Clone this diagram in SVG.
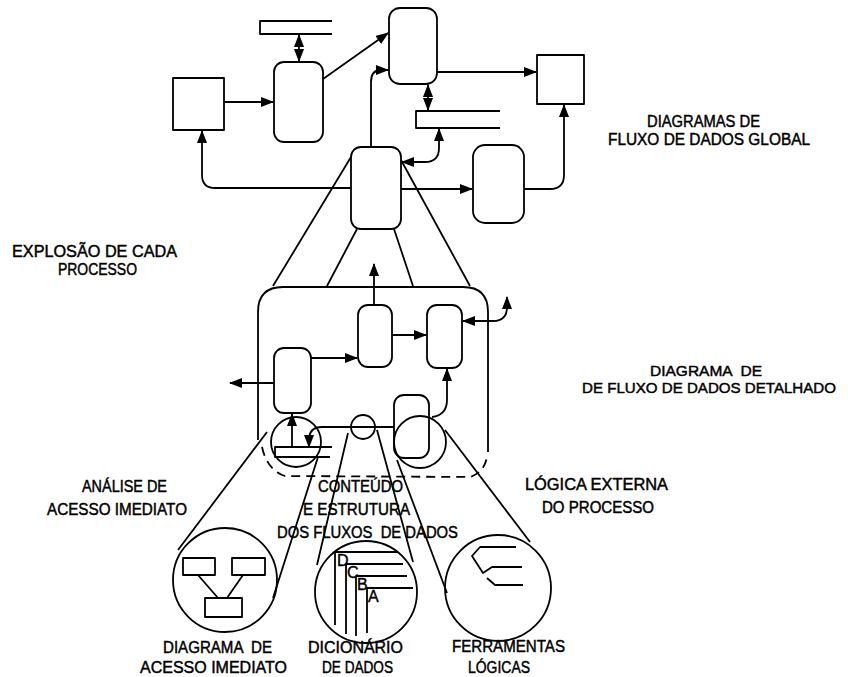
<svg xmlns="http://www.w3.org/2000/svg" width="848" height="677" viewBox="0 0 848 677">
<style>
.s{fill:none;stroke:#000;stroke-width:1.8;stroke-linejoin:round}
.d{fill:none;stroke:#000;stroke-width:1.8;stroke-dasharray:9 6}
.t{font-family:"Liberation Sans",Arial,sans-serif;font-size:16px;fill:#000;stroke:#000;stroke-width:0.45}
.r{font-size:15px}
.l{font-family:"Liberation Sans",Arial,sans-serif;font-size:16px;fill:#000;stroke:#000;stroke-width:0.4}
</style>
<defs>
<marker id="a" viewBox="0 0 13 10" refX="12" refY="5" markerWidth="13" markerHeight="10" markerUnits="userSpaceOnUse" orient="auto-start-reverse">
<path d="M0,0 L13,5 L0,10 z" fill="#000"/>
</marker>
</defs>
<rect width="848" height="677" fill="#fff"/>

<!-- global DFD nodes -->
<g id="store1"><path class="s" d="M332 21 L260 21 L260 34 L332 34"/></g>
<g id="procA"><rect class="s" x="274" y="62" width="49" height="80" rx="10"/></g>
<g id="extL"><rect class="s" x="173" y="78" width="51" height="52"/></g>
<g id="procB"><rect class="s" x="389" y="8" width="48" height="76" rx="11"/></g>
<g id="extR"><rect class="s" x="537" y="55" width="47" height="49"/></g>
<g id="store2"><path class="s" d="M500 111 L416 111 L416 128 L500 128"/></g>
<g id="procC"><rect class="s" x="351" y="147" width="50" height="82" rx="10"/></g>
<g id="procD"><rect class="s" x="473" y="145" width="51" height="78" rx="12"/></g>

<!-- detailed DFD -->
<g id="box">
<path class="s" d="M258 440 L258 312 Q258 287 283 287 L463 287 Q488 287 488 312 L488 452"/>
<path class="d" d="M262 447 Q267 470 285 476 L470 477 Q485 472 487 456"/>
</g>
<g id="p1"><rect class="s" x="274" y="348" width="37" height="65" rx="10"/></g>
<g id="p2"><rect class="s" x="358" y="305" width="34" height="62" rx="10"/></g>
<g id="p3"><rect class="s" x="427" y="305" width="35" height="63" rx="10"/></g>
<g id="p4"><rect class="s" x="394" y="395" width="35" height="63" rx="10"/></g>
<g id="store3"><path class="s" d="M332 447 L275 447 L275 457 L330 457"/></g>
<g id="cL"><circle class="s" cx="296" cy="442" r="25"/></g>
<g id="cM"><circle class="s" cx="363" cy="427" r="12"/></g>
<g id="cR"><circle class="s" cx="420" cy="442" r="26"/></g>

<!-- bottom magnified circles -->
<g id="bl">
<circle class="s" cx="225" cy="580" r="52"/>
<rect class="s" x="183" y="558" width="32" height="17"/>
<rect class="s" x="232" y="558" width="33" height="17"/>
<rect class="s" x="205" y="598" width="37" height="19"/>
<path class="s" d="M198 575 L218 598 M243 575 L227 598"/>
</g>
<g id="bc">
<circle class="s" cx="366" cy="592" r="51"/>
<path class="s" d="M335 625 L335 552 L398 552 M346 634 L346 564 L403 564 M356 636 L356 576 L407 576 M367 633 L367 588 L413 588"/>
<text class="l" x="337" y="566">D</text>
<text class="l" x="347" y="578">C</text>
<text class="l" x="357" y="590">B</text>
<text class="l" x="368" y="602">A</text>
</g>
<g id="br">
<circle class="s" cx="498" cy="588" r="53"/>
<path class="s" d="M516 547 L480 547 L472 556 L483 573 L492 567 L522 567 M487 578 L495 585 L523 585"/>
</g>

<!-- connectors -->
<g id="connectors">
<path class="s" d="M299 35 L299 61" marker-start="url(#a)" marker-end="url(#a)"/>
<path class="s" d="M224 102 L273 102" marker-end="url(#a)"/>
<path class="s" d="M323 79 L388 33" marker-end="url(#a)"/>
<path class="s" d="M371 147 L371 82 Q371 70 381 70 L388 70" marker-end="url(#a)"/>
<path class="s" d="M437 72 L536 72" marker-end="url(#a)"/>
<path class="s" d="M428 85 L428 110" marker-start="url(#a)" marker-end="url(#a)"/>
<path class="s" d="M439 129 L439 148 Q439 162 425 162 L402 162" marker-start="url(#a)" marker-end="url(#a)"/>
<path class="s" d="M351 188 L215 188 Q202 188 202 175 L202 131" marker-end="url(#a)"/>
<path class="s" d="M401 189 L472 189" marker-end="url(#a)"/>
<path class="s" d="M524 189 L550 189 Q564 189 564 175 L564 105" marker-end="url(#a)"/>
<path class="s" d="M351 157 L273 286 M357 229 L327 286 M394 229 L413 286 M401 160 L470 286"/>
<path class="s" d="M311 358 L357 358" marker-end="url(#a)"/>
<path class="s" d="M392 335 L426 335" marker-end="url(#a)"/>
<path class="s" d="M374 305 L374 264" marker-end="url(#a)"/>
<path class="s" d="M463 321 L493 321 Q507 321 507 307 L507 297" marker-start="url(#a)" marker-end="url(#a)"/>
<path class="s" d="M274 383 L230 383" marker-end="url(#a)"/>
<path class="s" d="M292 447 L292 414" marker-end="url(#a)"/>
<path class="s" d="M394 427 L322 427 Q309 427 309 440 L309 447" marker-end="url(#a)"/>
<path class="s" d="M432 417 Q447 415 447 400 L447 369" marker-end="url(#a)"/>
<path class="s" d="M267 432 L178 550 M318 457 L273 598 M348 433 L317 565 M377 430 L413 562 M397 460 L447 593 M445 430 L530 542"/>
</g>

<!-- labels -->
<g id="labels">
<text class="t" x="647" y="127" textLength="113" lengthAdjust="spacingAndGlyphs">DIAGRAMAS DE</text>
<text class="t" x="608" y="145" textLength="202" lengthAdjust="spacingAndGlyphs">FLUXO DE DADOS GLOBAL</text>
<text class="t" x="12" y="257" textLength="165" lengthAdjust="spacingAndGlyphs">EXPLOSÃO DE CADA</text>
<text class="t" x="58" y="275" textLength="79" lengthAdjust="spacingAndGlyphs">PROCESSO</text>
<text class="t r" x="650" y="376" textLength="112" lengthAdjust="spacingAndGlyphs" xml:space="preserve">DIAGRAMA  DE</text>
<text class="t r" x="582" y="393" textLength="254" lengthAdjust="spacingAndGlyphs">DE FLUXO DE DADOS DETALHADO</text>
<text class="t" x="82" y="492" textLength="85" lengthAdjust="spacingAndGlyphs">ANÁLISE DE</text>
<text class="t" x="47" y="515" textLength="140" lengthAdjust="spacingAndGlyphs">ACESSO IMEDIATO</text>
<text class="t" x="318" y="492" textLength="85" lengthAdjust="spacingAndGlyphs">CONTEÚDO</text>
<text class="t" x="303" y="515" textLength="107" lengthAdjust="spacingAndGlyphs">E ESTRUTURA</text>
<text class="t" x="277" y="538" textLength="181" lengthAdjust="spacingAndGlyphs" xml:space="preserve">DOS FLUXOS  DE DADOS</text>
<text class="t" x="525" y="490" textLength="143" lengthAdjust="spacingAndGlyphs">LÓGICA EXTERNA</text>
<text class="t" x="542" y="513" textLength="112" lengthAdjust="spacingAndGlyphs">DO PROCESSO</text>
<text class="t" x="163" y="653" textLength="109" lengthAdjust="spacingAndGlyphs" xml:space="preserve">DIAGRAMA  DE</text>
<text class="t" x="140" y="673" textLength="147" lengthAdjust="spacingAndGlyphs">ACESSO IMEDIATO</text>
<text class="t" x="308" y="653" textLength="95" lengthAdjust="spacingAndGlyphs">DICIONÁRIO</text>
<text class="t" x="322" y="673" textLength="71" lengthAdjust="spacingAndGlyphs">DE DADOS</text>
<text class="t" x="452" y="652" textLength="113" lengthAdjust="spacingAndGlyphs">FERRAMENTAS</text>
<text class="t" x="468" y="673" textLength="62" lengthAdjust="spacingAndGlyphs">LÓGICAS</text>
</g>
</svg>
